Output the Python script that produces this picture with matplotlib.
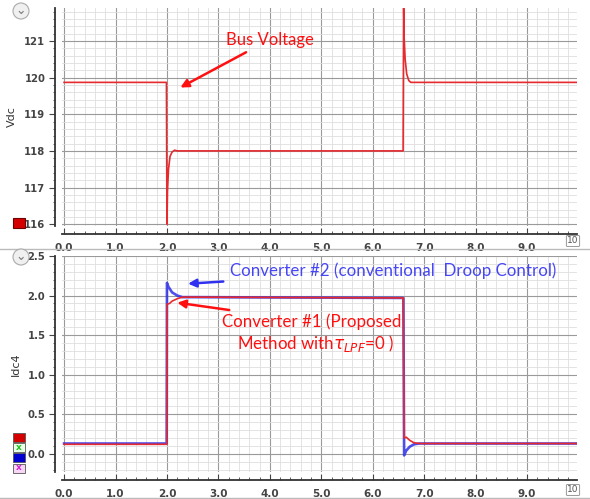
import matplotlib
matplotlib.use("Agg")
import matplotlib.pyplot as plt
from matplotlib.ticker import MultipleLocator, FixedLocator
from matplotlib.patches import Rectangle

# ---- data ----
t_vdc = [0.0, 1.99, 2.0, 2.01, 2.03, 2.06, 2.1, 2.15, 2.2, 6.59, 6.6, 6.61, 6.63, 6.66, 6.7, 6.74, 10.0]
vdc   = [119.87, 119.87, 116.0, 116.9, 117.5, 117.85, 117.97, 118.02, 118.0, 118.0, 121.95, 121.1, 120.5, 120.1, 119.92, 119.87, 119.87]

t_i1 = [0.0, 1.995, 2.0, 2.05, 2.1, 2.2, 2.3, 2.5, 6.58, 6.595, 6.61, 6.65, 6.72, 6.8, 6.9, 10.0]
i1   = [0.12, 0.12, 1.89, 1.90, 1.93, 1.96, 1.98, 1.98, 1.97, 1.97, 0.20, 0.21, 0.17, 0.14, 0.13, 0.13]

t_i2 = [0.0, 1.995, 2.0, 2.03, 2.1, 2.2, 2.3, 2.5, 6.58, 6.595, 6.61, 6.65, 6.72, 6.8, 6.9, 10.0]
i2   = [0.13, 0.13, 2.16, 2.11, 2.04, 2.0, 1.98, 1.98, 1.97, 1.97, -0.02, 0.04, 0.09, 0.12, 0.13, 0.13]

x_ticks = [0.0, 1.0, 2.0, 3.0, 4.0, 5.0, 6.0, 7.0, 8.0, 9.0]
x_ticklabels = ["0.0", "1.0", "2.0", "3.0", "4.0", "5.0", "6.0", "7.0", "8.0", "9.0"]
vdc_ticks = [116, 117, 118, 119, 120, 121]
idc_ticks = [0.0, 0.5, 1.0, 1.5, 2.0, 2.5]

RED = "#e62a2e"
BLUE = "#3030e8"

fig = plt.figure(figsize=(5.9, 4.99), dpi=100)
W, H = 590, 499

def px_axes(l, t, r, b):
    return fig.add_axes([l / W, 1 - b / H, (r - l) / W, (b - t) / H])

def style(ax, ylim, yticks, ymin, ylabel):
    ax.set_xlim(-0.04, 9.97)
    ax.set_ylim(*ylim)
    ax.xaxis.set_major_locator(FixedLocator(x_ticks))
    ax.set_xticklabels(x_ticklabels)
    ax.xaxis.set_minor_locator(MultipleLocator(0.2))
    ax.set_yticks(yticks)
    ax.yaxis.set_minor_locator(MultipleLocator(ymin))
    ax.grid(which="major", color="#9a9a9a", lw=0.8)
    ax.grid(which="minor", color="#dedede", lw=0.6)
    ax.set_axisbelow(True)
    for s in ["top", "right"]:
        ax.spines[s].set_visible(False)
    ax.spines["left"].set_position(("outward", 5))
    ax.spines["bottom"].set_position(("outward", 6))
    ax.spines["left"].set_color("#333333")
    ax.spines["bottom"].set_color("#333333")
    ax.spines["left"].set_linewidth(1.3)
    ax.spines["bottom"].set_linewidth(1.3)
    ax.tick_params(axis="x", which="major", direction="in", length=4, labelsize=7.5,
                   colors="#444444", pad=6)
    ax.tick_params(axis="x", which="minor", direction="in", length=2.5, colors="#444444")
    ax.tick_params(axis="y", which="major", direction="out", length=4, labelsize=7.2,
                   colors="#444444", pad=3)
    ax.tick_params(axis="y", which="minor", direction="out", length=1.5, colors="#444444")
    for lab in ax.get_xticklabels() + ax.get_yticklabels():
        lab.set_fontweight("bold")
    ax.set_ylabel(ylabel, fontsize=8, color="#333333", labelpad=5)

# top panel
ax1 = px_axes(62, 8, 577, 226)
ax1.plot(t_vdc, vdc, color=RED, lw=1.2)
style(ax1, (115.95, 121.9), vdc_ticks, 0.2, "Vdc")
ax1.annotate("Bus Voltage", xy=(2.26, 119.73), xytext=(4.0, 121.04),
             fontsize=12, color="#ff1010", family="Lato", ha="center", va="center",
             arrowprops=dict(arrowstyle="-|>", color="#ff1010", lw=1.8, mutation_scale=12,
                             shrinkA=3, shrinkB=0))

# bottom panel
ax2 = px_axes(62, 256, 577, 472)
ax2.plot(t_i2, i2, color=BLUE, lw=1.9, alpha=0.85)
ax2.plot(t_i1, i1, color=RED, lw=1.2)
style(ax2, (-0.23, 2.5), idc_ticks, 0.1, "Idc4")

ax2.annotate("Converter #2 (conventional  Droop Control)", xy=(2.41, 2.15), xytext=(3.23, 2.31),
             fontsize=12.2, color="#4646f5", family="Lato", ha="left", va="center",
             arrowprops=dict(arrowstyle="-|>", color="#3030f0", lw=1.8, mutation_scale=12,
                             shrinkA=3, shrinkB=0))
ax2.annotate("Converter #1 (Proposed", xy=(2.2, 1.91), xytext=(3.07, 1.67),
             fontsize=12.2, color="#ff1010", family="Lato", ha="left", va="center",
             arrowprops=dict(arrowstyle="-|>", color="#ff1010", lw=1.8, mutation_scale=12,
                             shrinkA=3, shrinkB=0))
ax2.text(3.37, 1.40, r"Method with$\tau_{LPF}$=0 )", fontsize=12.2, color="#ff1010",
         family="Lato", ha="left", va="center")

# decorations: legend squares, toggles, circled 10
fig.add_artist(Rectangle((13 / W, 1 - 228 / H), 12 / W, 10 / H, transform=fig.transFigure,
                         facecolor="#d40000", edgecolor="#700000", lw=0.8))
for yy, fc, mk in [(437, "#d40000", ""), (447, "#e8ffe8", "x"), (457, "#0000d0", ""), (468, "#f6d8f6", "x")]:
    fig.add_artist(Rectangle((13 / W, 1 - (yy + 5) / H), 12 / W, 9 / H, transform=fig.transFigure,
                             facecolor=fc, edgecolor="#555555", lw=0.6))
    if mk:
        fig.text(19 / W, 1 - yy / H, "x", fontsize=6.5, ha="center", va="center",
                 color="#20c020" if yy == 447 else "#d020d0", weight="bold")
for yy in (11, 257):
    fig.text(21 / W, 1 - yy / H, "\u2304", fontsize=9, ha="center", va="center", color="#777777",
             bbox=dict(boxstyle="circle,pad=0.12", fc="#f0f0f0", ec="#aaaaaa", lw=0.8))
for yy in (241, 490):
    fig.text(573 / W, 1 - yy / H, "10", fontsize=6.5, ha="center", va="center", color="#555555",
             bbox=dict(boxstyle="round,pad=0.1", fc="white", ec="#888888", lw=0.6))

# separator lines
fig.add_artist(plt.Line2D([0, 1], [1 - 249 / H, 1 - 249 / H], transform=fig.transFigure,
                          color="#bbbbbb", lw=1))
fig.add_artist(plt.Line2D([0, 1], [1 - 498 / H, 1 - 498 / H], transform=fig.transFigure,
                          color="#bbbbbb", lw=1))

fig.savefig("out.png", dpi=100)
